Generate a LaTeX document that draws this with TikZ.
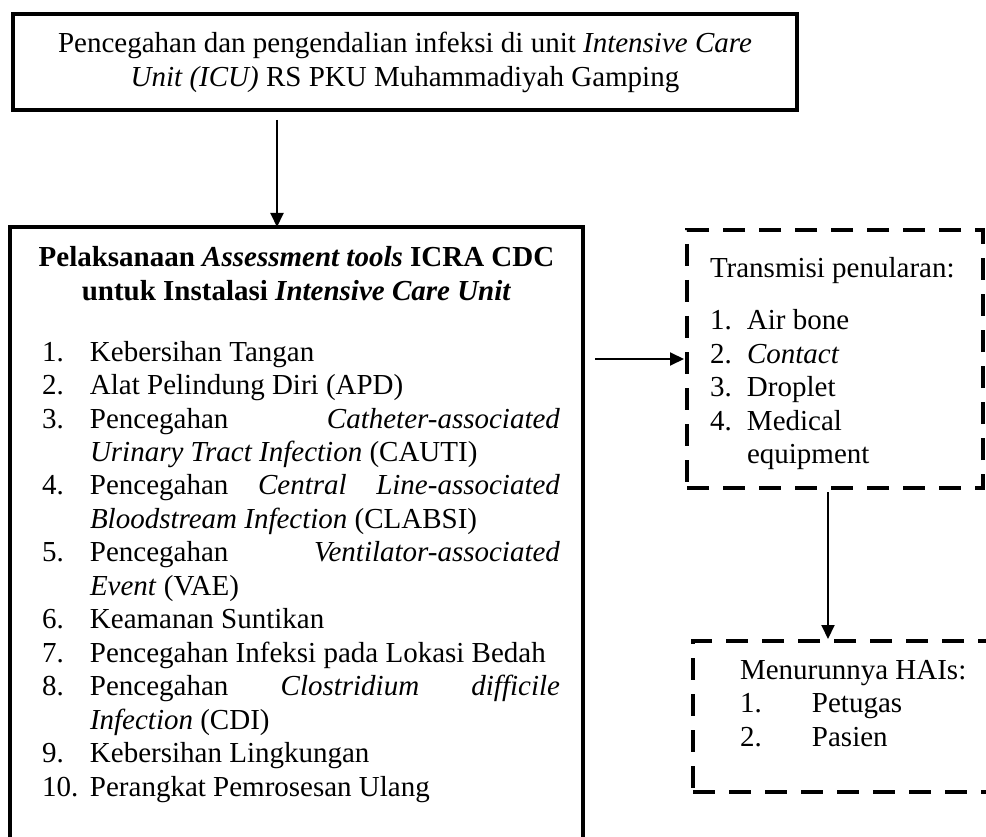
\documentclass[tikz,border=0pt]{standalone}
\usepackage{fontspec}
\setmainfont{Liberation Serif}
\usetikzlibrary{arrows.meta,calc}
\tikzset{
  solidbox/.style={draw, line width=3.6pt, rectangle, inner sep=0pt, outer sep=0pt, anchor=north west},
  dashbox/.style={draw, line width=4.6pt, dash pattern=on 22pt off 14pt, rectangle, inner sep=0pt, outer sep=0pt, anchor=north west},
  txt/.style={inner sep=0pt, outer sep=0pt, font=\fontsize{29pt}{33.5pt}\selectfont},
  arr/.style={line width=2pt, -{Triangle[width=13pt,length=14pt]}},
}
\newcommand\numitem[3]{\makebox[#1][l]{#2}#3}
\begin{document}
\begin{tikzpicture}[x=1pt,y=-1pt]
\useasboundingbox (0,0) rectangle (986,837);
\clip (0,0) rectangle (986,837);
% boxes
\node[solidbox, minimum width=784pt, minimum height=96pt] (top) at (13,14) {};
\node[solidbox, minimum width=573pt, minimum height=640pt] (assess) at (10,227) {};
\node[dashbox, minimum width=296pt, minimum height=258pt] (trans) at (687,230) {};
\node[dashbox, minimum width=330pt, minimum height=151pt] (hais) at (693,641) {};
% texts
\node[txt, anchor=base] (toptext) at (405,53) {\parbox[t]{770pt}{\centering Pencegahan dan pengendalian infeksi di unit \textit{Intensive Care}\\ \textit{Unit (ICU)} RS PKU Muhammadiyah Gamping}};
\node[txt, anchor=base] (assesstitle) at (296.5,267) {\parbox[t]{560pt}{\centering\bfseries Pelaksanaan \textit{Assessment tools} ICRA CDC\\ untuk Instalasi \textit{Intensive Care Unit}}};
\node[txt, anchor=base west] (assesslist) at (42,361) {\parbox[t]{518pt}{%
\numitem{48pt}{1.}{Kebersihan Tangan}\\
\numitem{48pt}{2.}{Alat Pelindung Diri (APD)}\\
\numitem{48pt}{3.}{Pencegahan\hfill\textit{Catheter-associated}}\\
\hspace*{48pt}\textit{Urinary Tract Infection} (CAUTI)\\
\numitem{48pt}{4.}{Pencegahan\hfill\textit{Central}\hfill\textit{Line-associated}}\\
\hspace*{48pt}\textit{Bloodstream Infection} (CLABSI)\\
\numitem{48pt}{5.}{Pencegahan\hfill\textit{Ventilator-associated}}\\
\hspace*{48pt}\textit{Event} (VAE)\\
\numitem{48pt}{6.}{Keamanan Suntikan}\\
\numitem{48pt}{7.}{Pencegahan Infeksi pada Lokasi Bedah}\\
\numitem{48pt}{8.}{Pencegahan\hfill\textit{Clostridium}\hfill\textit{difficile}}\\
\hspace*{48pt}\textit{Infection} (CDI)\\
\numitem{48pt}{9.}{Kebersihan Lingkungan}\\
\numitem{48pt}{10.}{Perangkat Pemrosesan Ulang}}};
\node[txt, anchor=base west] (transtext) at (710,278) {\parbox[t]{265pt}{%
Transmisi penularan:\\[18.5pt]
\numitem{37pt}{1.}{Air bone}\\
\numitem{37pt}{2.}{\textit{Contact}}\\
\numitem{37pt}{3.}{Droplet}\\
\numitem{37pt}{4.}{Medical}\\
\hspace*{37pt}equipment}};
\node[txt, anchor=base west] (haistext) at (740,679) {\parbox[t]{240pt}{%
Menurunnya HAIs:\\
\numitem{72pt}{1.}{Petugas}\\
\numitem{72pt}{2.}{Pasien}}};
% connectors
\draw[arr] ([xshift=264pt,yshift=-10pt]top.south west) -- ([xshift=264pt]top.south west |- assess.north);
\draw[arr] ([xshift=12pt]assess.east |- trans.west) -- ([xshift=-3pt]trans.west);
\draw[arr] ([xshift=141pt,yshift=-4pt]trans.south west) -- ([xshift=141pt,yshift=2pt]trans.south west |- hais.north);
\end{tikzpicture}
\end{document}
